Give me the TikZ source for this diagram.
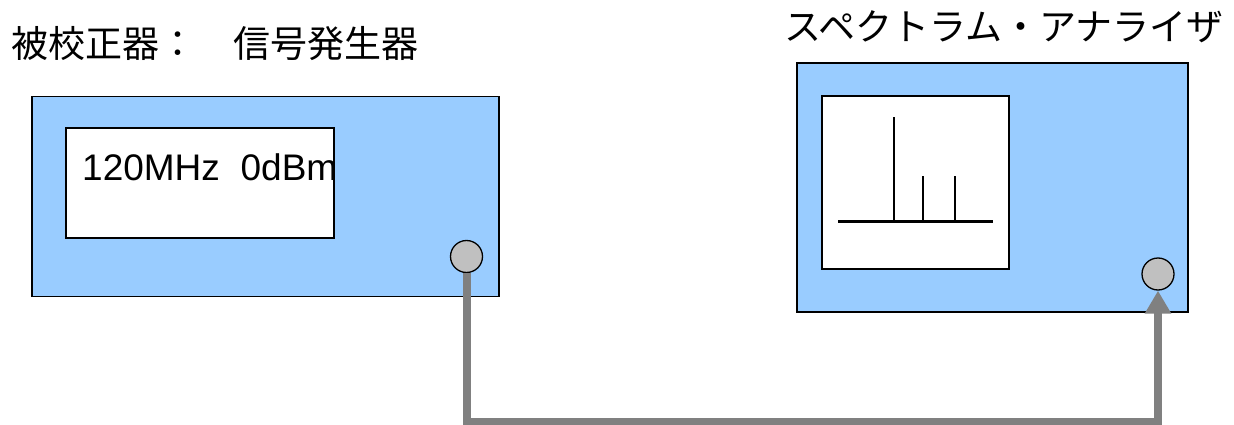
\documentclass[tikz,border=0pt]{standalone}
\usepackage{fontspec}
\setmainfont{Liberation Sans}
\newfontfamily\cjk{Noto Sans CJK JP}
\usetikzlibrary{arrows.meta}
\definecolor{devblue}{HTML}{99CCFF}
\definecolor{portgray}{HTML}{C0C0C0}
\definecolor{cablegray}{HTML}{808080}
\tikzset{
  devbox/.style={draw=black, fill=devblue, line width=1.3pt, inner sep=0pt, rectangle},
  screen/.style={draw=black, fill=white, line width=1.3pt, inner sep=0pt, rectangle},
  port/.style={draw=black, fill=portgray, line width=1.3pt, circle, inner sep=0pt, minimum size=32pt},
  cable/.style={draw=cablegray, line width=8pt, line join=miter},
  title/.style={anchor=base west, inner sep=0pt, font=\cjk\fontsize{37}{44}\selectfont},
  spec/.style={line width=2.6pt, line cap=butt}
}
\begin{document}
\begin{tikzpicture}[x=1pt,y=-1pt]
\useasboundingbox (0,0) rectangle (1234,425);
% titles
\node[title] (t1) at (11,58) {被校正器：　信号発生器};
\node[title] (t2) at (784,41) {スペクトラム・アナライザ};
% signal generator
\node[devbox, minimum width=467pt, minimum height=200pt] (sg) at (265.5,196.5) {};
\node[screen, minimum width=268pt, minimum height=110pt] (sgscr) at (200,183) {};
\node[anchor=base west, inner sep=0pt, font=\fontsize{37}{44}\selectfont] (freq) at (82,180) {120MHz\hspace{0.56em}0dBm};
\node[port] (sgport) at (466.5,256.5) {};
% spectrum analyzer
\node[devbox, minimum width=391pt, minimum height=249pt] (sa) at (992.5,187.5) {};
\node[screen, minimum width=187pt, minimum height=173pt] (sascr) at (915.5,182.5) {};
\draw[line width=3pt] (838,221) -- (993,221);
\draw[line width=2pt] (894,221) -- (894,117);
\draw[spec] (923,221) -- (923,176);
\draw[spec] (955,221) -- (955,176);
\node[port] (saport) at (1158,274) {};
% cable
\coordinate (bend) at (466.5,422);
\draw[cable, -{Triangle[width=25pt,length=23pt]}] (sgport.south) -- (bend) -| (saport.south);
\end{tikzpicture}
\end{document}
